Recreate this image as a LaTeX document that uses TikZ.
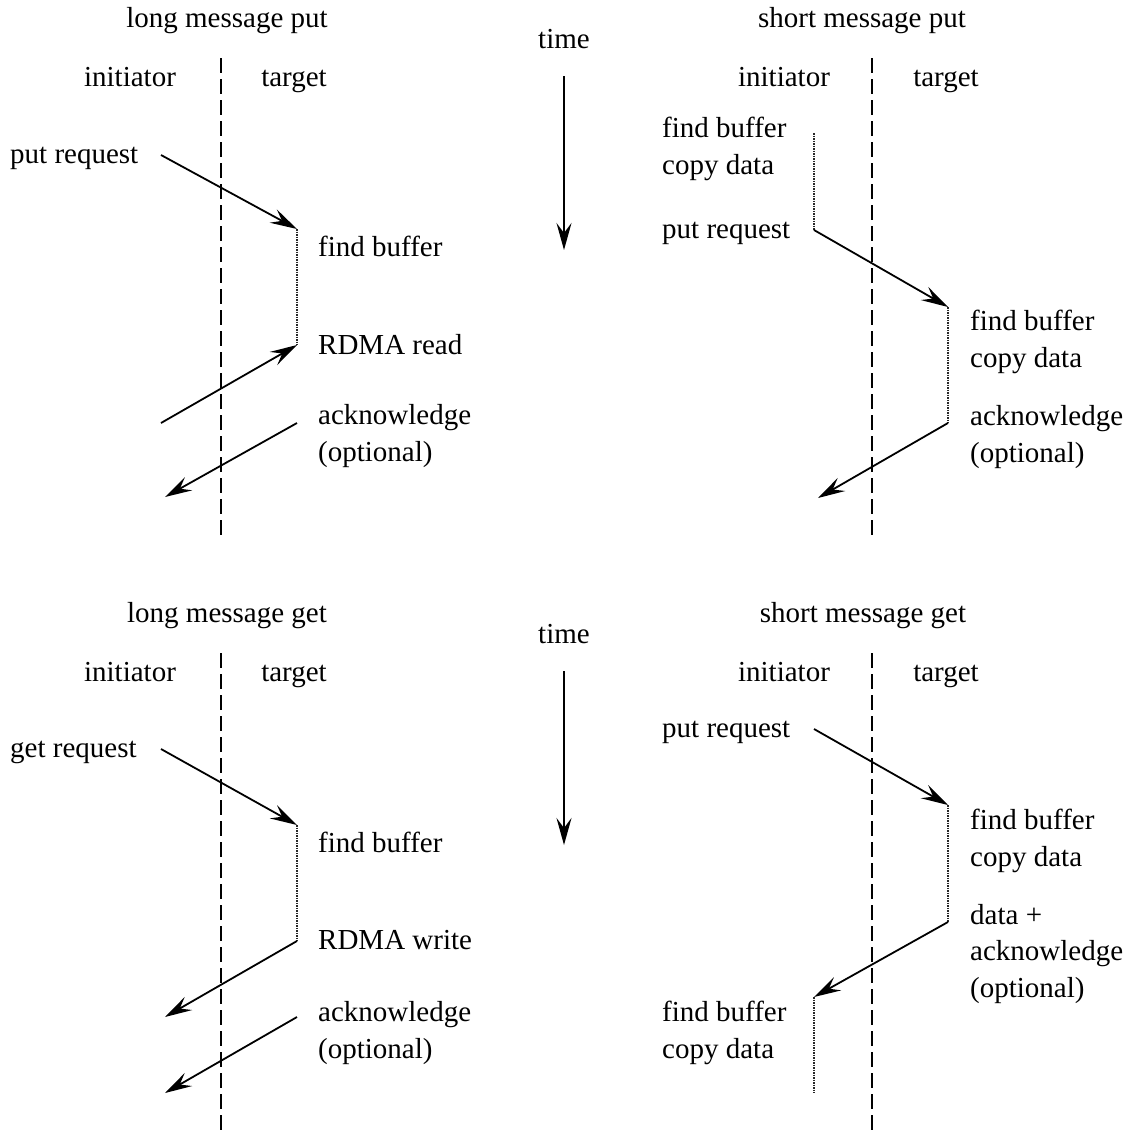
\documentclass[tikz,border=0pt]{standalone}
\usepackage{fontspec}
\setmainfont{Liberation Serif}
\usetikzlibrary{arrows.meta}
\begin{document}
\begin{tikzpicture}[x=1pt,y=-1pt,
  lifeline/.style={line width=1.7pt,dash pattern=on 15pt off 6pt},
  msg/.style={line width=1.8pt,-{Stealth[length=27pt,width=15pt,inset=10pt]}},
  busy/.style={line width=2pt,black!85,dash pattern=on 1.5pt off 1pt},
  lbl/.style={inner sep=0pt,font=\fontsize{29}{35}\selectfont},
  lw/.style={lbl,anchor=base west},
  lc/.style={lbl,anchor=base}]
\useasboundingbox (0,0) rectangle (1126,1130);

% ---------------- long message put ----------------
\node[lc] (t1) at (227,27) {long message put};
\node[lc] (i1) at (130,86) {initiator};
\node[lc] (g1) at (294,86) {target};
\coordinate (l1a) at (221,58); \coordinate (l1b) at (221,537);
\draw[lifeline] (l1a) -- (l1b);
\node[lw] (pr1) at (10,163) {put request};
\node[lw] (fb1) at (318,256) {find buffer};
\node[lw] (rr1) at (318,354) {RDMA read};
\node[lw] (ak1) at (318,424) {acknowledge};
\node[lw] (op1) at (318,461) {(optional)};
\coordinate (a1) at (161,155); \coordinate (b1) at (297,229);
\coordinate (c1) at (297,345); \coordinate (d1) at (161,423);
\coordinate (e1) at (297,423); \coordinate (f1) at (165,497);
\draw[msg] (a1) -- (b1);
\draw[busy] (b1) -- (c1);
\draw[msg] (d1) -- (c1);
\draw[msg] (e1) -- (f1);

% ---------------- time (top) ----------------
\node[lc] (tm1) at (564,48) {time};
\coordinate (tma) at (564,76); \coordinate (tmb) at (564,250);
\draw[msg] (tma) -- (tmb);

% ---------------- short message put ----------------
\node[lc] (t2) at (862,27) {short message put};
\node[lc] (i2) at (784,86) {initiator};
\node[lc] (g2) at (946,86) {target};
\coordinate (l2a) at (872,58); \coordinate (l2b) at (872,537);
\draw[lifeline] (l2a) -- (l2b);
\node[lw] (fb2) at (662,137) {find buffer};
\node[lw] (cd2) at (662,174) {copy data};
\node[lw] (pr2) at (662,238) {put request};
\node[lw] (fb2t) at (970,330) {find buffer};
\node[lw] (cd2t) at (970,367) {copy data};
\node[lw] (ak2) at (970,425) {acknowledge};
\node[lw] (op2) at (970,462) {(optional)};
\coordinate (a2) at (814,133); \coordinate (b2) at (814,230);
\coordinate (c2) at (948,307); \coordinate (d2) at (948,423);
\coordinate (e2) at (818,498);
\draw[busy] (a2) -- (b2);
\draw[msg] (b2) -- (c2);
\draw[busy] (c2) -- (d2);
\draw[msg] (d2) -- (e2);

% ---------------- long message get ----------------
\node[lc] (t3) at (227,622) {long message get};
\node[lc] (i3) at (130,681) {initiator};
\node[lc] (g3) at (294,681) {target};
\coordinate (l3a) at (221,653); \coordinate (l3b) at (221,1130);
\draw[lifeline] (l3a) -- (l3b);
\node[lw] (gr3) at (10,757) {get request};
\node[lw] (fb3) at (318,852) {find buffer};
\node[lw] (rw3) at (318,949) {RDMA write};
\node[lw] (ak3) at (318,1021) {acknowledge};
\node[lw] (op3) at (318,1058) {(optional)};
\coordinate (a3) at (161,749); \coordinate (b3) at (297,825);
\coordinate (c3) at (297,941); \coordinate (d3) at (165,1017);
\coordinate (e3) at (297,1017); \coordinate (f3) at (165,1093);
\draw[msg] (a3) -- (b3);
\draw[busy] (b3) -- (c3);
\draw[msg] (c3) -- (d3);
\draw[msg] (e3) -- (f3);

% ---------------- time (bottom) ----------------
\node[lc] (tm2) at (564,643) {time};
\coordinate (tmc) at (564,671); \coordinate (tmd) at (564,845);
\draw[msg] (tmc) -- (tmd);

% ---------------- short message get ----------------
\node[lc] (t4) at (863,622) {short message get};
\node[lc] (i4) at (784,681) {initiator};
\node[lc] (g4) at (946,681) {target};
\coordinate (l4a) at (872,653); \coordinate (l4b) at (872,1130);
\draw[lifeline] (l4a) -- (l4b);
\node[lw] (pr4) at (662,737) {put request};
\node[lw] (fb4t) at (970,829) {find buffer};
\node[lw] (cd4t) at (970,866) {copy data};
\node[lw] (dp4) at (970,924) {data +};
\node[lw] (ak4) at (970,960) {acknowledge};
\node[lw] (op4) at (970,997) {(optional)};
\node[lw] (fb4) at (662,1021) {find buffer};
\node[lw] (cd4) at (662,1058) {copy data};
\coordinate (a4) at (814,729); \coordinate (b4) at (948,805);
\coordinate (c4) at (948,922); \coordinate (d4) at (814,997);
\coordinate (e4) at (814,1093);
\draw[msg] (a4) -- (b4);
\draw[busy] (b4) -- (c4);
\draw[msg] (c4) -- (d4);
\draw[busy] (d4) -- (e4);
\end{tikzpicture}
\end{document}
